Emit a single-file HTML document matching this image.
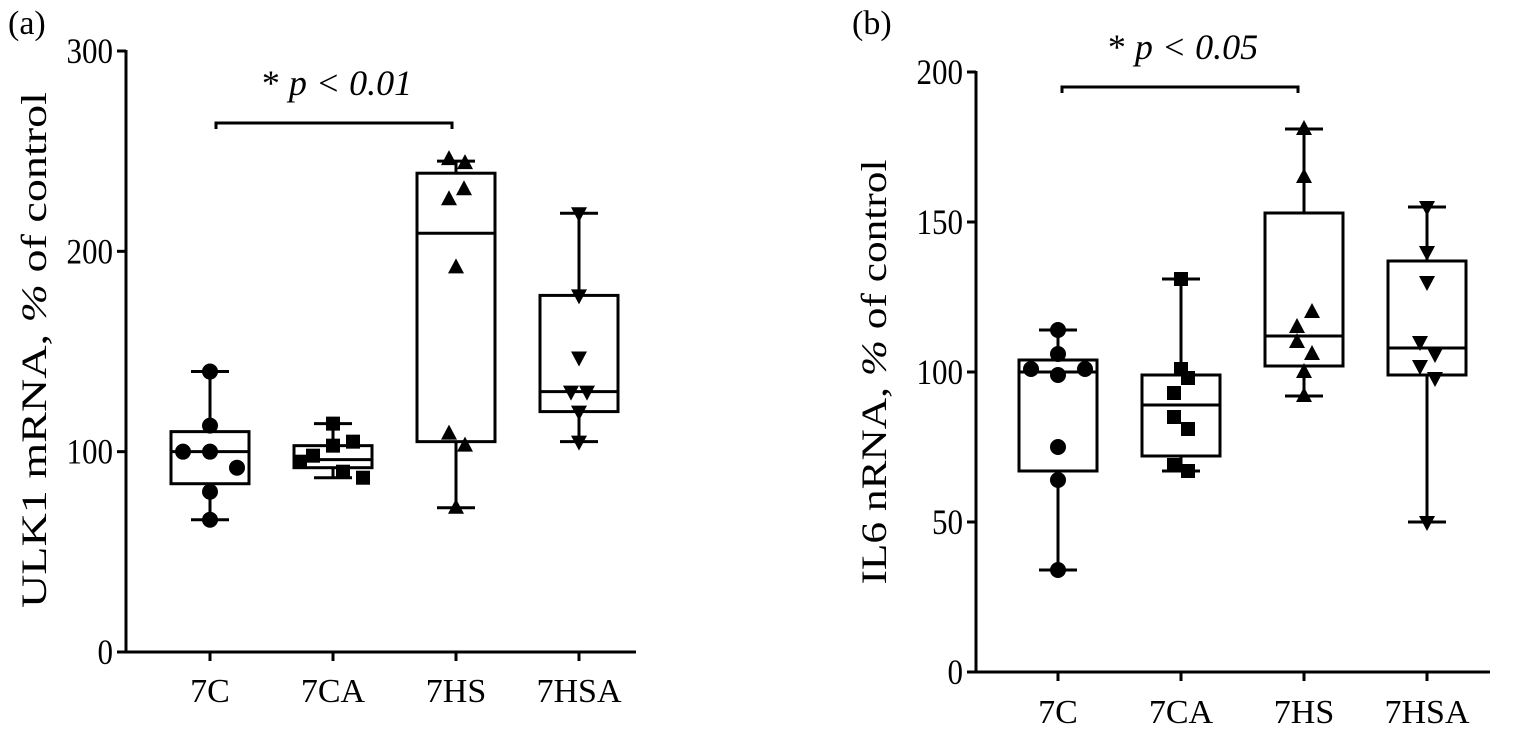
<!DOCTYPE html>
<html><head><meta charset="utf-8"><style>
body{margin:0;background:#fff;}
svg{display:block;font-family:"Liberation Serif",serif;}
</style></head><body>
<svg id="chart" width="1520" height="738" viewBox="0 0 1520 738" xmlns="http://www.w3.org/2000/svg"></svg>
<script>
const categories = ["7C","7CA","7HS","7HSA"];
const markers = ["circle","square","up","down"];
// Panel a: ULK1 box stats [min,q1,median,q3,max]
const ulkBoxes = [[66,84,100,110,140],[87,92,96,103,114],[72,105,209,239,245],[105,120,130,178,219]];
const ulkPoints = [[140,113,100,100,92,80,66],[114,105,103,98,95,90,87],[246,244,231,226,192,109,103,72],[219,178,147,130,130,120,105]];
const ulkOffsets = [[0,0,-27,0,27,0,0],[0,20,0,-20,-33,10,30],[-7,9,8,-7,0,-7,9,0],[0,0,0,-8,8,0,0]];
const ulkTicks = [0,100,200,300];
// Panel b: IL6
const il6Boxes = [[34,67,100,104,114],[67,72,89,99,131],[92,102,112,153,181],[50,99,108,137,155]];
const il6Points = [[114,106,101,101,99,75,64,34],[131,101,98,93,85,81,69,67],[181,165,120,115,110,106,100,92],[155,140,130,110,106,102,98,50]];
const il6Offsets = [[0,0,-27,27,0,0,0,0],[0,0,7,-7,-7,7,-7,7],[0,0,8,-7,-7,8,0,0],[0,0,0,-7,8,-7,8,0]];
const il6Ticks = [0,50,100,150,200];

const NS="http://www.w3.org/2000/svg";
const svg=document.getElementById('chart');
function mk(tag,attrs,parent){const e=document.createElementNS(NS,tag);for(const k in attrs)e.setAttribute(k,attrs[k]);(parent||svg).appendChild(e);return e;}

function panel(cfg){
  const g=mk('g',{});
  
  
  const y=v=>cfg.y0-(v/cfg.ymax)*(cfg.y0-cfg.yTop);
  const x=i=>cfg.xFirst+i*cfg.xStep;
  const axis=mk('path',{d:`M${cfg.ax},${cfg.yTop-1}V${cfg.y0}H${cfg.xEnd}`,stroke:'#000','stroke-width':3,fill:'none'},g);
  
  
  cfg.ticks.forEach(t=>{
    mk('line',{x1:cfg.ax-9,x2:cfg.ax,y1:y(t),y2:y(t),stroke:'#000','stroke-width':3},g);
    const tl=mk('text',{x:cfg.ax-13,y:y(t)+12,'text-anchor':'end','font-size':36,textLength:String(t).length*15.5,lengthAdjust:'spacingAndGlyphs'},g);
    tl.textContent=t;
    
    
  });
  categories.forEach((c,i)=>{
    mk('line',{x1:x(i),x2:x(i),y1:cfg.y0,y2:cfg.y0+9,stroke:'#000','stroke-width':3},g);
    const tl=mk('text',{x:x(i),y:cfg.labelY,'text-anchor':'middle','font-size':34},g);
    tl.textContent=c;
    
    
    const b=cfg.boxes[i];const cx=x(i);const hw=39;
    const bg=mk('g',{fill:'none',stroke:'#000','stroke-width':3},g);
    
    
    mk('line',{x1:cx,x2:cx,y1:y(b[4]),y2:y(b[3])},bg);
    mk('line',{x1:cx,x2:cx,y1:y(b[1]),y2:y(b[0])},bg);
    mk('line',{x1:cx-19,x2:cx+19,y1:y(b[4]),y2:y(b[4])},bg);
    mk('line',{x1:cx-19,x2:cx+19,y1:y(b[0]),y2:y(b[0])},bg);
    mk('rect',{x:cx-hw,y:y(b[3]),width:2*hw,height:y(b[1])-y(b[3])},bg);
    mk('line',{x1:cx-hw,x2:cx+hw,y1:y(b[2]),y2:y(b[2])},bg);
    cfg.points[i].forEach((v,j)=>{
      const px=cx+cfg.offsets[i][j],py=y(v);let m;
      if(markers[i]==='circle')m=mk('circle',{cx:px,cy:py,r:8},g);
      else if(markers[i]==='square')m=mk('rect',{x:px-7,y:py-7,width:14,height:14},g);
      else if(markers[i]==='up')m=mk('path',{d:`M${px},${py-9}L${px+8},${py+6}L${px-8},${py+6}Z`},g);
      else m=mk('path',{d:`M${px},${py+9}L${px+8},${py-6}L${px-8},${py-6}Z`},g);
      
      
    });
  });
  const yt=mk('text',{x:0,y:0,'text-anchor':'middle','font-size':36,textLength:cfg.titleLen,lengthAdjust:'spacingAndGlyphs',transform:`translate(${cfg.titleX},${cfg.titleY}) rotate(-90)`},g);
  yt.innerHTML=cfg.title;
  
  
  const s=cfg.sig;
  mk('path',{d:`M${s.x1},${s.y+6}V${s.y}H${s.x2}V${s.y+6}`,stroke:'#000','stroke-width':3,fill:'none'},g);
  const st=mk('text',{x:(s.x1+s.x2)/2+3,y:s.y-28,'text-anchor':'middle','font-size':36},g);
  st.innerHTML='* <tspan font-style="italic">'+s.text+'</tspan>';
  
  
  const pl=mk('text',{x:cfg.plx,y:cfg.ply,'font-size':34},g);
  pl.textContent=cfg.plabel;
  
  
}
panel({name:'panel-a',y0:652,yTop:51,ymax:300,ax:126,xEnd:636,xFirst:210,xStep:123,labelY:702,ticks:ulkTicks,
  boxes:ulkBoxes,points:ulkPoints,offsets:ulkOffsets,titleX:46,titleY:350,titleLen:516,
  title:'ULK1 mRNA, <tspan font-style="italic">%</tspan> of control',
  sig:{x1:216,x2:452,y:123,text:'p &lt; 0.01'},plabel:'(a)',plx:8,ply:34});
panel({name:'panel-b',y0:672,yTop:72,ymax:200,ax:976,xEnd:1490,xFirst:1058,xStep:123,labelY:723,ticks:il6Ticks,
  boxes:il6Boxes,points:il6Points,offsets:il6Offsets,titleX:886,titleY:372,titleLen:425,
  title:'IL6 nRNA, <tspan font-style="italic">%</tspan> of control',
  sig:{x1:1062,x2:1298,y:87,text:'p &lt; 0.05'},plabel:'(b)',plx:852,ply:34});
</script>
</body></html>
